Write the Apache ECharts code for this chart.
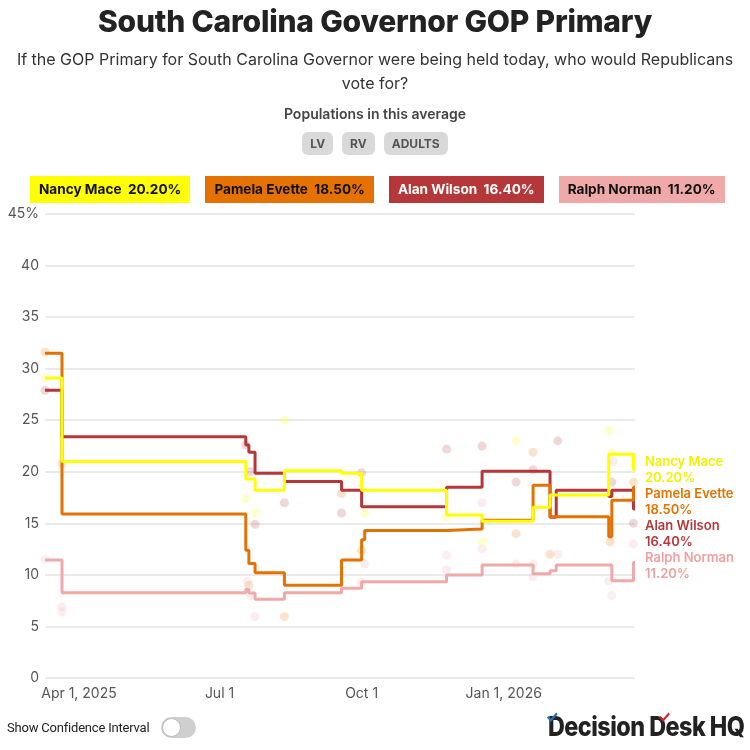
<!DOCTYPE html>
<html>
<head>
<meta charset="utf-8">
<script src="https://cdn.jsdelivr.net/npm/echarts@6/dist/echarts.min.js"></script>
<style>
  html, body { margin:0; padding:0; background:#fff; }
  body { width:750px; height:750px; position:relative; overflow:hidden; font-family: Inter, "Noto Sans", sans-serif; }
  #chart { position:absolute; left:0; top:0; width:750px; height:750px; }
  .abs { position:absolute; }
  #title { left:0; width:750px; top:3px; text-align:center; font-size:30px; font-weight:800; color:#222; letter-spacing:-0.2px; }
  #subtitle { left:10px; width:730px; top:47px; text-align:center; font-size:16px; color:#333; line-height:24px; }
  #popTitle { left:0; width:750px; top:105px; text-align:center; font-size:14px; font-weight:600; color:#444; }
  #pills { left:0; width:750px; top:132px; text-align:center; font-size:0; }
  .pill { display:inline-block; height:23px; line-height:23px; padding:0 8px; margin:0 4.5px; background:#d9d9d9; border-radius:6px; font-size:12px; font-weight:700; color:#555; }
  #legend { left:30px; top:176px; font-size:0; white-space:nowrap; }
  .lg { display:inline-block; height:27px; line-height:27px; padding:0 9px; margin-right:15px; font-size:13.6px; font-weight:700; }
  #ci { left:7px; top:720px; font-family: Roboto, sans-serif; font-size:13px; color:#222; letter-spacing:-0.2px; white-space:nowrap; }
  #toggle { left:161px; top:717px; width:35px; height:21px; border-radius:11px; background:#cfcfcf; }
  #knob { position:absolute; left:1px; top:1px; width:17px; height:17px; border-radius:50%; background:#fff; border:1px solid #bbb; }
  #logo { left:548px; top:710px; white-space:nowrap; font-family: Inter, sans-serif; font-weight:800; font-size:27px; color:#222; letter-spacing:-0.6px; transform:scaleX(0.865); transform-origin:0 0; }
  .chk { position:absolute; font-size:17px; font-weight:700; }
</style>
</head>
<body>
<div id="chart"></div>
<div id="title" class="abs">South Carolina Governor GOP Primary</div>
<div id="subtitle" class="abs">If the GOP Primary for South Carolina Governor were being held today, who would Republicans vote for?</div>
<div id="popTitle" class="abs">Populations in this average</div>
<div id="pills" class="abs"></div>
<div id="legend" class="abs"></div>
<div id="ci" class="abs">Show Confidence Interval</div>
<div id="toggle" class="abs"><div id="knob"></div></div>
<div id="logo" class="abs">Decision Desk HQ<span class="chk" style="left:-3px;top:-3px;color:#2a6fb5;">✓</span><span class="chk" style="left:127px;top:-3px;color:#d0282e;">✓</span></div>
<script>
// ---------- data ----------
const populations = ['LV', 'RV', 'ADULTS'];
const candidates = ['Nancy Mace', 'Pamela Evette', 'Alan Wilson', 'Ralph Norman'];
const currentValues = ['20.20%', '18.50%', '16.40%', '11.20%'];
const candColors = ['#ffff00', '#e57200', '#b5373a', '#f0a9a9'];
const labelColors = ['#f2f200', '#e57200', '#b5373a', '#f0a0a0'];
const boxTextColors = ['#111', '#111', '#fff', '#111'];

const dates = ['2025-03-10','2025-03-21','2025-07-18','2025-07-20','2025-07-24','2025-08-12','2025-09-18','2025-10-01','2025-10-03','2025-11-25','2025-12-18','2026-01-20','2026-01-31','2026-02-04','2026-03-10','2026-03-12','2026-03-26','2026-03-27'];
const mace   = [29.1, 21.0, 19.3, 19.3, 18.2, 20.1, 19.85, 18.2, 18.2, 15.8, 15.2, 16.55, 17.75, 17.75, 21.7, 21.7, 20.2, 20.2];
const evette = [31.5, 15.9, 12.4, 11.1, 10.2, 9.0, 11.45, 13.4, 14.3, 14.45, 15.3, 18.7, 15.65, 15.65, 13.7, 17.25, 18.5, 18.5];
const wilson = [27.9, 23.4, 22.6, 21.9, 19.85, 19.05, 18.2, 16.6, 16.6, 18.5, 20.05, 20.05, 15.6, 18.2, 17.6, 18.2, 16.4, 16.4];
const norman = [11.45, 8.27, 8.6, 8.25, 7.63, 8.27, 8.7, 9.34, 9.34, 10.0, 10.96, 10.1, 10.4, 10.96, 10.96, 9.44, 11.2, 11.2];

const maceDots = [['2025-03-10',29.1],['2025-07-18',17.4],['2025-07-24',16.0],['2025-08-12',25.0],['2025-10-03',16.0],['2025-11-25',15.6],['2025-12-18',13.2],['2026-01-09',23.0],['2026-03-10',24.0],['2026-03-12',21.85]];
const evetteDots = [['2025-03-10',31.6],['2025-03-21',20.8],['2025-07-20',9.0],['2025-08-12',5.95],['2025-09-18',17.9],['2025-10-01',12.4],['2026-01-09',14.0],['2026-01-20',21.9],['2026-01-31',12.0],['2026-03-11',13.2],['2026-03-26',19.0]];
const wilsonDots = [['2025-03-10',27.9],['2025-07-18',22.6],['2025-07-21',20.0],['2025-07-24',14.9],['2025-08-12',17.0],['2025-09-18',16.0],['2025-10-01',19.9],['2025-11-25',22.2],['2025-12-18',22.5],['2026-01-09',19.0],['2026-01-20',20.2],['2026-02-05',23.0],['2026-03-12',19.0],['2026-03-26',15.0]];
const normanDots = [['2025-03-10',11.5],['2025-03-21',6.9],['2025-03-21',6.4],['2025-07-19',9.35],['2025-07-21',8.0],['2025-07-24',5.95],['2025-10-01',9.25],['2025-10-03',11.05],['2025-11-25',11.9],['2025-11-25',10.5],['2025-12-18',17.0],['2025-12-18',12.5],['2026-01-09',11.05],['2026-01-20',11.05],['2026-01-20',9.8],['2026-02-05',12.0],['2026-03-10',9.4],['2026-03-12',8.0],['2026-03-13',21.0],['2026-03-26',13.0]];

const xMin = '2025-03-10';
const xMax = '2026-03-27';
const xTickDates = ['2025-04-01', '2025-07-01', '2025-10-01', '2026-01-01'];
const xTickLabels = ['Apr 1, 2025', 'Jul 1', 'Oct 1', 'Jan 1, 2026'];
const yTickTop = '45%';

// ---------- helpers ----------
function t(s) { const p = s.split('-').map(Number); return Date.UTC(p[0], p[1] - 1, p[2]); }

document.getElementById('pills').innerHTML = populations.map(p => '<span class="pill">' + p + '</span>').join('');
document.getElementById('legend').innerHTML = candidates.map((c, i) =>
  '<span class="lg" style="background:' + candColors[i] + ';color:' + boxTextColors[i] + '">' + c + '&nbsp;&nbsp;' + currentValues[i] + '</span>').join('');

const lineValues = [mace, evette, wilson, norman];
const dotSets = [maceDots, evetteDots, wilsonDots, normanDots];
const tickTimes = xTickDates.map(t);

const series = [];
dotSets.forEach((d, i) => {
  series.push({
    type: 'scatter', name: candidates[i] + ' polls', z: 1, silent: true,
    symbolSize: 9,
    itemStyle: { color: candColors[i], opacity: 0.2 },
    data: d.map(p => [t(p[0]), p[1]])
  });
});
lineValues.forEach((vals, i) => {
  series.push({
    type: 'line', name: candidates[i], step: 'end', showSymbol: false, z: 10 - i,
    lineStyle: { color: candColors[i], width: 3 },
    itemStyle: { color: candColors[i] },
    data: dates.map((d, k) => [t(d), vals[k]])
  });
});

const chart = echarts.init(document.getElementById('chart'), null, { renderer: 'canvas' });
chart.setOption({
  animation: false,
  grid: { left: 45, top: 214, width: 590, height: 464, containLabel: false },
  xAxis: {
    type: 'value', min: t(xMin), max: t(xMax), scale: true,
    axisLine: { show: false }, axisTick: { show: false }, splitLine: { show: false },
    axisLabel: {
      customValues: tickTimes,
      formatter: v => { const i = tickTimes.indexOf(v); return i >= 0 ? xTickLabels[i] : ''; },
      color: '#555', fontSize: 14, fontFamily: 'Inter', margin: 9
    }
  },
  yAxis: {
    type: 'value', min: 0, max: 45, interval: 5,
    axisLine: { show: false }, axisTick: { show: false },
    splitLine: { lineStyle: { color: '#e3e3e3', width: 1.5 } },
    axisLabel: {
      formatter: v => v === 45 ? yTickTop : String(v),
      color: '#555', fontSize: 14, fontFamily: 'Inter', margin: 6
    }
  },
  series: series
});

// end labels, placed from the library's scale, pushed apart to avoid overlap
const last = dates.length - 1;
const ys = lineValues.map(v => chart.convertToPixel({ gridIndex: 0 }, [t(dates[last]), v[last]])[1]);
const order = ys.map((y, i) => i).sort((a, b) => ys[a] - ys[b]);
const placed = [];
let prev = -Infinity;
order.forEach(i => { const y = Math.max(ys[i], prev + 32); placed[i] = y; prev = y; });
const xEnd = chart.convertToPixel({ gridIndex: 0 }, [t(xMax), 0])[0] + 10;
chart.setOption({
  graphic: candidates.map((c, i) => ({
    type: 'text', x: xEnd, y: placed[i], silent: true,
    style: { text: c + '\n' + currentValues[i], fill: labelColors[i], font: '600 13px Inter', lineHeight: 16, verticalAlign: 'middle', align: 'left' }
  }))
});
</script>
</body>
</html>
